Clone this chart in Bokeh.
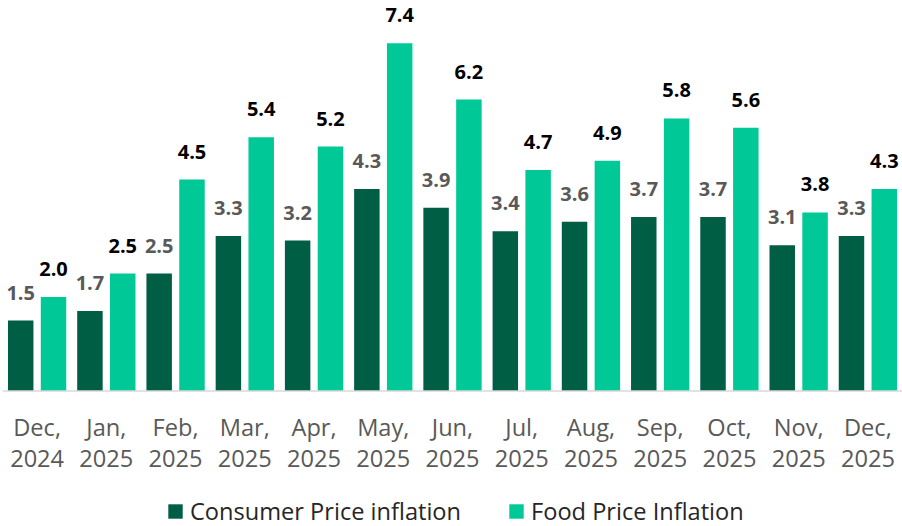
from bokeh.plotting import figure
from bokeh.models import ColumnDataSource, Legend, LegendItem, FactorRange, Span
from bokeh.transform import dodge
from bokeh.core.properties import value
from bokeh.embed import file_html
from bokeh.resources import INLINE

months = ["Dec,\n2024", "Jan,\n2025", "Feb,\n2025", "Mar,\n2025", "Apr,\n2025",
          "May,\n2025", "Jun,\n2025", "Jul,\n2025", "Aug,\n2025", "Sep,\n2025",
          "Oct,\n2025", "Nov,\n2025", "Dec,\n2025"]
cpi = [1.5, 1.7, 2.5, 3.3, 3.2, 4.3, 3.9, 3.4, 3.6, 3.7, 3.7, 3.1, 3.3]
food = [2.0, 2.5, 4.5, 5.4, 5.2, 7.4, 6.2, 4.7, 4.9, 5.8, 5.6, 3.8, 4.3]
series_names = ["Consumer Price inflation", "Food Price Inflation"]

DARK = "#005e45"
LIGHT = "#00c896"
FONT = "Open Sans"

src = ColumnDataSource(dict(
    month=months, cpi=cpi, food=food,
    cpi_lbl=[f"{v:.1f}" for v in cpi],
    food_lbl=[f"{v:.1f}" for v in food],
    line1=[m.split("\n")[0] for m in months],
    line2=[m.split("\n")[1] for m in months],
    zero=[0] * len(months),
))

W, H = 902, 526
BASE = 390.5   # pixel row of the zero line
K = 47.0       # pixels per unit
p = figure(x_range=FactorRange(*months, range_padding=0),
           y_range=(-(H - BASE) / K, BASE / K),
           width=W, height=H, output_backend="svg", toolbar_location=None,
           min_border_left=2, min_border_right=0, min_border_top=0, min_border_bottom=0)

r1 = p.vbar(x=dodge("month", -0.237, range=p.x_range), top="cpi", width=0.368,
            source=src, fill_color=DARK, line_color=None)
r2 = p.vbar(x=dodge("month", 0.237, range=p.x_range), top="food", width=0.368,
            source=src, fill_color=LIGHT, line_color=None)

p.text(x=dodge("month", -0.237, range=p.x_range), y="cpi", text="cpi_lbl", source=src,
       text_font=value(FONT), text_font_style="bold", text_font_size="20px",
       text_color="#595959", text_align="center", text_baseline="alphabetic", y_offset=-28)
p.text(x=dodge("month", 0.237, range=p.x_range), y="food", text="food_lbl", source=src,
       text_font=value(FONT), text_font_style="bold", text_font_size="20px",
       text_color="#000000", text_align="center", text_baseline="alphabetic", y_offset=-28)

# category labels (two lines)
p.text(x="month", y="zero", text="line1", source=src,
       text_font=value(FONT), text_font_size="23.6px", text_color="#595959",
       text_align="center", text_baseline="alphabetic", y_offset=35.5)
p.text(x="month", y="zero", text="line2", source=src,
       text_font=value(FONT), text_font_size="23.6px", text_color="#595959",
       text_align="center", text_baseline="alphabetic", y_offset=67)

p.add_layout(Span(location=0, dimension="width", line_color="#d9d9d9", line_width=1.5))

p.xaxis.visible = False
p.yaxis.visible = False
p.xgrid.visible = False
p.ygrid.visible = False
p.outline_line_color = None

legend = Legend(items=[LegendItem(label=series_names[0], renderers=[r1]),
                       LegendItem(label=series_names[1], renderers=[r2])],
                orientation="horizontal", location=(164, -1))
legend.label_text_font = FONT
legend.label_text_font_size = "23.6px"
legend.label_text_color = "#262626"
legend.glyph_width = 18
legend.glyph_height = 18
legend.label_standoff = 6
legend.spacing = 46
legend.padding = 0
legend.margin = 0
legend.border_line_color = None
legend.background_fill_alpha = 0
p.add_layout(legend, "center")

open("out.html", "w").write(file_html(p, INLINE))
